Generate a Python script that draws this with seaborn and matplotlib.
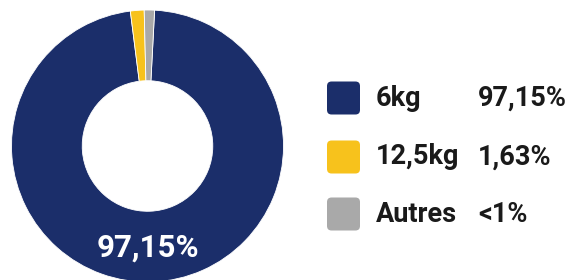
import matplotlib
matplotlib.use("Agg")
import matplotlib.pyplot as plt
import seaborn as sns
from matplotlib.patches import FancyBboxPatch

categories = ["6kg", "12,5kg", "Autres"]
values = [97.15, 1.63, 1.22]
pct_labels = ["97,15%", "1,63%", "<1%"]
center_label = "97,15%"

sns.set_theme(style="white")
plt.rcParams["font.family"] = ["Roboto", "DejaVu Sans"]
palette = sns.color_palette(["#1b2e6a", "#f7c21c", "#a9a9a9"])

fig = plt.figure(figsize=(5.71, 2.80), dpi=100)
fig.patch.set_facecolor("white")

W, H = 571, 280
cx, cy, r = 147.5, 134, 136
ax = fig.add_axes([(cx - r) / W, (cy - r) / H, 2 * r / W, 2 * r / H])
ax.pie(values, colors=palette, startangle=87, counterclock=False, radius=1,
       wedgeprops=dict(width=0.52, edgecolor="white", linewidth=0.6))
ax.set_xlim(-1, 1)
ax.set_ylim(-1, 1)
ax.set_aspect("equal")
ax.axis("off")
ax.text(0, -0.75, center_label, color="white", fontsize=22.5, fontweight="bold",
        ha="center", va="center")

# legend
row_y = [98, 157, 214]
for i, (cat, pct) in enumerate(zip(categories, pct_labels)):
    y = row_y[i]
    sq = 33
    p = FancyBboxPatch((327 / W, (H - y - sq / 2) / H), sq / W, sq / H,
                       boxstyle="round,pad=0,rounding_size=0.008",
                       transform=fig.transFigure, facecolor=palette[i],
                       edgecolor="none", mutation_aspect=W / H)
    fig.patches.append(p)
    fig.text(376 / W, (H - y) / H, cat, fontsize=19.5, fontweight="bold",
             color="#1a1a1a", ha="left", va="center")
    fig.text(478 / W, (H - y) / H, pct, fontsize=19.5, fontweight="bold",
             color="#1a1a1a", ha="left", va="center")

fig.savefig("out.png", dpi=100, facecolor="white")
